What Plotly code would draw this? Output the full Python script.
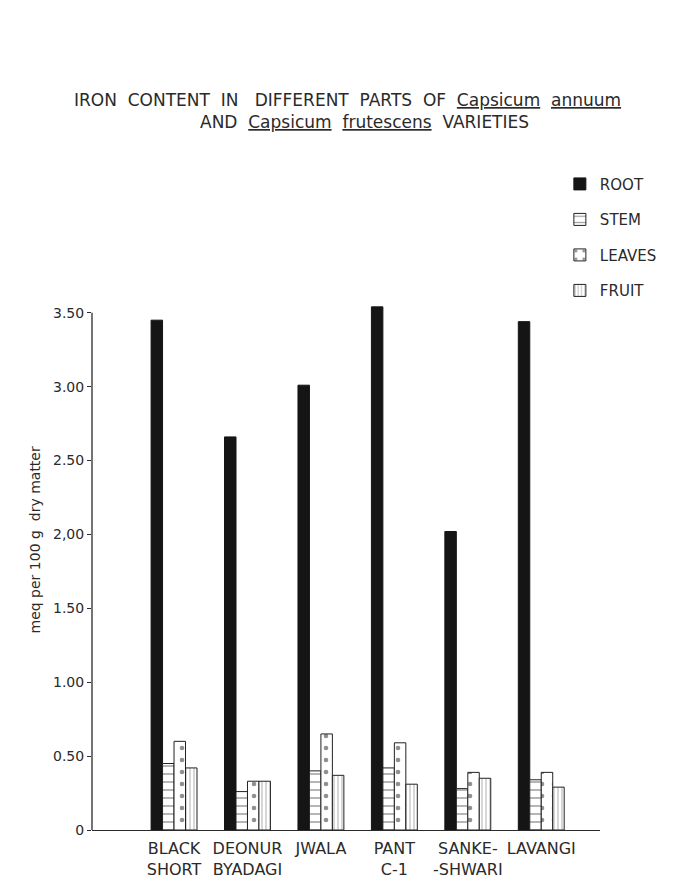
import plotly.graph_objects as go

varieties = ["BLACK<br>SHORT", "DEONUR<br>BYADAGI", "JWALA", "PANT<br>C-1", "SANKE-<br>-SHWARI", "LAVANGI"]
root = [3.45, 2.66, 3.01, 3.54, 2.02, 3.44]
stem = [0.45, 0.26, 0.40, 0.42, 0.28, 0.34]
leaves = [0.60, 0.33, 0.65, 0.59, 0.39, 0.39]
fruit = [0.42, 0.33, 0.37, 0.31, 0.35, 0.29]
y_tickvals = [0, 0.5, 1.0, 1.5, 2.0, 2.5, 3.0, 3.5]
y_ticktext = ["0", "0.50", "1.00", "1.50", "2,00", "2.50", "3.00", "3.50"]

FONT = "DejaVu Sans"
INK = "#2a2a2a"

fig = go.Figure()
fig.add_trace(go.Bar(name="ROOT", x=varieties, y=root, legendgroup="a",
                     marker=dict(color="#151515", line=dict(color="#151515", width=1))))
fig.add_trace(go.Bar(name="STEM", x=varieties, y=stem, legendgroup="b",
                     marker=dict(color="white", line=dict(color="#222", width=1),
                                 pattern=dict(shape="-", size=8, solidity=0.18,
                                              fgcolor="#333", bgcolor="white"))))
fig.add_trace(go.Bar(name="LEAVES", x=varieties, y=leaves, legendgroup="c",
                     marker=dict(color="white", line=dict(color="#222", width=1),
                                 pattern=dict(shape=".", size=12, solidity=0.12,
                                              fgcolor="#222", bgcolor="white"))))
fig.add_trace(go.Bar(name="FRUIT", x=varieties, y=fruit, legendgroup="d",
                     marker=dict(color="white", line=dict(color="#222", width=1),
                                 pattern=dict(shape="|", size=4, solidity=0.3,
                                              fgcolor="#777", bgcolor="white"))))

fig.add_shape(type="line", xref="paper", yref="y", x0=0, x1=0, y0=0, y1=3.5,
              line=dict(color=INK, width=1.3))

fig.add_annotation(text="IRON  CONTENT  IN   DIFFERENT  PARTS  OF  <u>Capsicum</u>  <u>annuum</u>",
                   xref="paper", yref="paper", x=0.502, y=1.372, showarrow=False,
                   font=dict(family=FONT, size=17, color=INK), xanchor="center", yanchor="middle")
fig.add_annotation(text="AND  <u>Capsicum</u>  <u>frutescens</u>  VARIETIES",
                   xref="paper", yref="paper", x=0.537, y=1.33, showarrow=False,
                   font=dict(family=FONT, size=17, color=INK), xanchor="center", yanchor="middle")
fig.add_annotation(text="meq per 100 g  dry matter", xref="paper", yref="y",
                   x=-0.112, y=1.96, textangle=-90, showarrow=False,
                   xanchor="center", yanchor="middle",
                   font=dict(family=FONT, size=14, color=INK))

fig.update_layout(
    width=676, height=876,
    margin=dict(l=84, r=84, t=290, b=54),
    paper_bgcolor="white", plot_bgcolor="white",
    barmode="group", bargap=0.375, bargroupgap=0,
    font=dict(family=FONT, size=14, color=INK),
    legend=dict(x=0.921, y=1.245, xanchor="left", yanchor="top",
                tracegroupgap=13, font=dict(family=FONT, size=15, color=INK),
                itemwidth=30, bgcolor="rgba(0,0,0,0)"),
    showlegend=True,
)
fig.update_xaxes(range=[-1.117, 5.80], showline=True, linecolor=INK, linewidth=1.3,
                 ticks="", showgrid=False, zeroline=False, ticklabelstandoff=4,
                 automargin=False,
                 tickfont=dict(family=FONT, size=16, color=INK))
fig.update_yaxes(range=[0, 3.6], tickvals=y_tickvals, ticktext=y_ticktext,
                 ticks="outside", ticklen=4, tickcolor=INK, showgrid=False,
                 zeroline=False, showline=False, automargin=False,
                 tickfont=dict(family=FONT, size=14, color=INK))

fig.write_html("out.html")
